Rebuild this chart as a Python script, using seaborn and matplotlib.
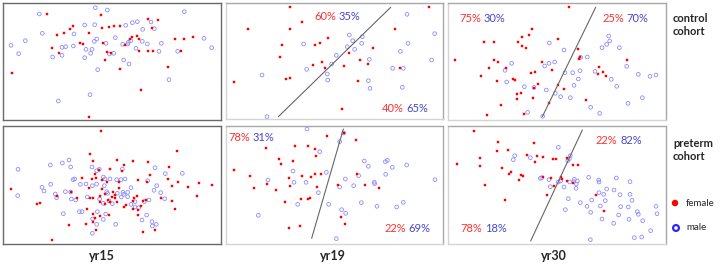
import numpy as np
import pandas as pd
import matplotlib
matplotlib.use('Agg')
import matplotlib.pyplot as plt
import seaborn as sns

sns.set_theme(style='white')
plt.rcParams['font.family'] = ['Lato', 'DejaVu Sans']

# -------------------- DATA (score coordinates) --------------------
YEARS = ['yr15', 'yr19', 'yr30']
COHORTS = ['control', 'preterm']

ctrl15_f = [(142,42),(302,44),(443,58),(473,60),(219,77),(305,84),(328,80),(342,78),(360,78),(209,88),
            (193,98),(171,104),(267,99),(457,84),(396,110),(389,118),(410,108),(417,116),(579,111),(524,116),
            (553,116),(240,130),(250,133),(310,128),(375,134),(155,143),(320,156),(332,158),(178,160),(418,152),
            (445,152),(458,152),(542,152),(315,180),(360,208),(503,200),(36,219),(423,270),(266,350)]
ctrl15_m = [(118,42),(286,23),(322,30),(553,35),(254,75),(284,74),(377,76),(397,68),(412,65),(453,66),
            (463,86),(428,88),(127,100),(222,102),(76,122),(290,117),(283,124),(346,113),(318,130),(385,127),
            (392,122),(368,133),(383,132),(427,124),(442,132),(484,130),(33,136),(612,115),(635,143),(186,142),
            (197,140),(220,138),(258,148),(276,148),(408,145),(56,161),(158,171),(186,166),(272,160),(254,173),
            (328,162),(341,160),(371,180),(387,192),(477,154),(533,154),(293,209),(507,239),(270,284),(175,303)]

ctrl19_f = [(195,22),(611,22),(231,65),(70,86),(194,88),(510,86),(308,113),(285,128),(271,134),(171,134),
            (443,143),(372,158),(165,170),(404,180),(290,187),(264,194),(429,191),(356,199),(299,204),(524,203),
            (182,236),(196,234),(26,246),(399,243),(350,328)]
ctrl19_m = [(546,43),(629,101),(373,105),(412,110),(383,122),(410,130),(236,132),(549,130),(367,140),(389,148),
            (526,154),(334,166),(433,178),(620,180),(320,192),(503,205),(535,205),(245,208),(307,222),(111,225),
            (308,240),(430,242),(435,265),(532,262),(126,350)]

ctrl30_f = [(372,22),(262,87),(252,105),(231,110),(116,127),(148,126),(219,126),(230,138),(243,143),(339,118),
            (398,148),(31,181),(148,181),(158,187),(291,187),(182,204),(133,205),(321,210),(270,215),(259,220),
            (107,227),(156,244),(205,238),(209,240),(402,176),(404,172),(462,200),(460,221),(473,217),(483,228),
            (547,181),(339,255),(278,253),(268,263),(228,278),(216,283),(216,296),(263,294),(357,268),(313,308),
            (422,299),(167,316),(127,346),(237,343)]
ctrl30_m = [(313,129),(357,150),(491,108),(494,123),(485,133),(471,143),(523,143),(200,190),(312,190),(299,198),
            (329,186),(180,211),(185,246),(238,260),(267,262),(304,270),(331,280),(347,290),(376,293),(360,218),
            (383,218),(405,212),(400,237),(387,256),(407,172),(427,171),(450,214),(499,238),(515,259),(545,199),
            (580,223),(615,229),(633,225),(592,293),(549,310),(437,322),(464,340),(248,337),(293,349)]

pre15_f = [(303,18),(532,77),(271,86),(278,108),(352,106),(399,108),(444,112),(372,120),(506,126),(330,132),
           (367,137),(296,134),(284,146),(450,150),(276,162),(288,160),(305,164),(245,158),(414,164),(442,170),
           (505,163),(534,170),(357,172),(322,170),(268,190),(307,192),(565,186),(596,174),(635,181),(516,182),
           (33,192),(356,188),(213,202),(170,214),(232,218),(270,218),(280,220),(299,213),(314,207),(323,225),
           (340,200),(346,210),(344,220),(337,215),(402,218),(410,214),(398,228),(430,228),(439,224),(482,220),
           (516,228),(590,212),(300,230),(316,238),(329,232),(121,233),(111,237),(379,240),(371,245),(400,252),
           (413,254),(424,242),(260,252),(279,268),(299,274),(286,278),(327,271),(413,271),(524,252),(280,292),
           (258,296),(206,299),(289,315),(466,316),(428,321),(157,345),(352,230)]
pre15_m = [(207,105),(187,114),(151,120),(212,126),(276,126),(290,137),(298,133),(367,132),(465,128),(496,146),
           (547,145),(54,133),(224,162),(219,164),(241,178),(258,177),(277,182),(290,177),(310,156),(315,162),
           (330,162),(350,164),(363,164),(375,162),(443,167),(470,182),(462,196),(482,203),(152,178),(126,187),
           (132,198),(196,200),(212,201),(313,182),(320,200),(383,202),(393,188),(352,205),(371,208),(383,215),
           (364,216),(323,205),(53,212),(166,207),(170,218),(214,222),(227,225),(262,216),(299,222),(327,228),
           (337,236),(310,235),(405,230),(433,230),(447,225),(494,221),(416,248),(393,238),(405,246),(190,266),
           (238,260),(246,260),(292,260),(317,267),(310,283),(278,282),(290,298),(347,298),(426,285),(440,270),
           (456,290),(469,298),(457,303),(277,325),(369,202)]

pre19_f = [(306,34),(392,46),(358,24),(211,62),(249,62),(122,70),(269,72),(273,94),(161,102),(203,108),
           (168,118),(28,135),(74,152),(232,152),(259,155),(270,148),(289,146),(192,158),(125,177),(194,184),
           (87,190),(153,194),(277,185),(339,180),(396,148),(421,180),(463,190),(256,220),(249,222),(228,222),
           (181,232),(349,276),(359,296),(224,304),(192,309)]
pre19_m = [(246,12),(356,24),(344,50),(284,80),(418,108),(430,124),(481,110),(487,106),(502,127),(545,120),
           (204,138),(304,142),(401,152),(482,148),(361,162),(448,172),(449,176),(630,164),(129,165),(207,172),
           (243,172),(344,186),(386,182),(280,203),(311,238),(218,238),(409,233),(456,244),(515,246),(535,232),
           (350,254),(362,265),(100,271),(334,341)]

pre30_f = [(86,17),(159,51),(266,54),(157,77),(188,76),(105,99),(246,90),(276,94),(293,97),(270,110),
           (325,101),(333,101),(366,100),(35,118),(104,123),(172,129),(199,140),(193,148),(229,150),(234,152),
           (223,165),(119,180),(384,121),(400,121),(294,155),(319,158),(349,157),(352,162),(366,167),(383,174),
           (327,184),(306,210),(181,226),(452,210),(478,258)]
pre30_m = [(340,67),(376,92),(373,101),(368,107),(205,104),(209,92),(256,98),(286,160),(290,158),(312,164),
           (316,185),(340,171),(347,168),(357,186),(388,163),(397,168),(386,170),(394,177),(393,190),(374,171),
           (431,157),(461,165),(462,171),(514,159),(555,170),(485,192),(462,203),(476,208),(507,195),(525,209),
           (555,208),(561,226),(370,221),(406,233),(440,225),(466,243),(481,227),(426,244),(437,262),(527,245),
           (550,246),(577,260),(580,268),(521,270),(552,283),(471,282),(593,287),(633,244),(636,266),(617,317),
           (590,336),(568,338),(506,295),(361,254),(436,344)]

# separating lines (two end points) and % female / % male on each side
boundaries = {
    ('control', 'yr19'): [(160, 350), (497, 22)],
    ('control', 'yr30'): [(292, 350), (452, 22)],
    ('preterm', 'yr19'): [(260, 340), (355, 12)],
    ('preterm', 'yr30'): [(257, 348), (412, 15)],
}
pct_labels = {
    ('control', 'yr19'): [('60%', '35%'), ('40%', '65%')],
    ('control', 'yr30'): [('75%', '30%'), ('25%', '70%')],
    ('preterm', 'yr19'): [('78%', '31%'), ('22%', '69%')],
    ('preterm', 'yr30'): [('22%', '82%'), ('78%', '18%')],
}

raw = {
    ('control', 'yr15'): (ctrl15_f, ctrl15_m),
    ('control', 'yr19'): (ctrl19_f, ctrl19_m),
    ('control', 'yr30'): (ctrl30_f, ctrl30_m),
    ('preterm', 'yr15'): (pre15_f, pre15_m),
    ('preterm', 'yr19'): (pre19_f, pre19_m),
    ('preterm', 'yr30'): (pre30_f, pre30_m),
}
frames = []
for (cohort, yr), (fem, mal) in raw.items():
    for sex, pts in (('female', fem), ('male', mal)):
        d = pd.DataFrame(pts, columns=['x', 'y'])
        d['cohort'], d['year'], d['sex'] = cohort, yr, sex
        frames.append(d)
df = pd.concat(frames, ignore_index=True)

# -------------------- LAYOUT --------------------
W, H = 721, 267
RED = '#ff0000'
BLUE_PT = '#8c8cff'
RED_TXT = '#ff3030'
BLUE_TXT = '#4646d2'

boxes = {  # pixel boxes (x0, y0, x1, y1) in the figure
    ('control', 'yr15'): (3, 3, 221, 120),
    ('control', 'yr19'): (226, 3, 443, 119),
    ('control', 'yr30'): (448, 3, 666, 120),
    ('preterm', 'yr15'): (3, 126, 221, 244),
    ('preterm', 'yr19'): (226, 126, 443, 244),
    ('preterm', 'yr30'): (448, 126, 666, 244),
}
limits = {
    ('control', 'yr15'): ((9, 663), (9, 360)),
    ('control', 'yr19'): ((3, 654), (9, 357)),
    ('control', 'yr30'): ((9, 663), (9, 360)),
    ('preterm', 'yr15'): ((9, 663), (3, 357)),
    ('preterm', 'yr19'): ((3, 654), (3, 357)),
    ('preterm', 'yr30'): ((9, 663), (3, 357)),
}
# where the % pairs sit (data coords of the centre of the red label)
label_pos = {
    ('control', 'yr19'): [(300, 48), (503, 326)],
    ('control', 'yr30'): [(75, 57), (505, 57)],
    ('preterm', 'yr19'): [(43, 38), (510, 310)],
    ('preterm', 'yr30'): [(485, 45), (80, 312)],
}

fig = plt.figure(figsize=(W / 100, H / 100), dpi=100)
fig.patch.set_facecolor('white')

for key, (x0, y0, x1, y1) in boxes.items():
    cohort, yr = key
    ax = fig.add_axes([x0 / W, 1 - y1 / H, (x1 - x0) / W, (y1 - y0) / H])
    sub = df[(df.cohort == cohort) & (df.year == yr)]
    sns.scatterplot(data=sub[sub.sex == 'male'], x='x', y='y', ax=ax, marker='o', s=7,
                    facecolor='none', edgecolor=BLUE_PT, linewidth=0.6, legend=False)
    sns.scatterplot(data=sub[sub.sex == 'female'], x='x', y='y', ax=ax, marker='s', s=4,
                    color=RED, edgecolor=RED, linewidth=0.3, legend=False)
    if key in boundaries:
        (bx0, by0), (bx1, by1) = boundaries[key]
        ax.plot([bx0, bx1], [by0, by1], color='#666666', lw=0.8)
        for (rx, ry), (ftxt, mtxt) in zip(label_pos[key], pct_labels[key]):
            ax.text(rx, ry, ftxt, color=RED_TXT, fontsize=8, ha='center', va='center')
            ax.text(rx + 73, ry, mtxt, color=BLUE_TXT, fontsize=8, ha='center', va='center')
    (xl, xr), (yt, yb) = limits[key]
    ax.set_xlim(xl, xr)
    ax.set_ylim(yb, yt)
    ax.set_xticks([])
    ax.set_yticks([])
    ax.set_xlabel('')
    ax.set_ylabel('')
    dark = '#6a6a6a' if yr == 'yr15' else '#a8a8a8'
    for side, sp in ax.spines.items():
        sp.set_linewidth(1.0)
        sp.set_color(dark if side in ('top', 'right') or yr == 'yr15' else '#d4d4d4')

# year labels under the columns
for yr, xc in zip(YEARS, [102, 333, 554]):
    fig.text(xc / W, 1 - 256 / H, yr, fontsize=9, fontweight='bold', ha='center', va='center')

# cohort labels at the right
fig.text(673 / W, 1 - 25 / H, 'control\ncohort', fontsize=8, fontweight='bold', ha='left',
         va='center', linespacing=1.25)
fig.text(673 / W, 1 - 150 / H, 'preterm\ncohort', fontsize=8, fontweight='bold', ha='left',
         va='center', linespacing=1.25)

# legend
fig.text(686 / W, 1 - 203 / H, 'female', fontsize=7, ha='left', va='center')
fig.text(686 / W, 1 - 228 / H, 'male', fontsize=7, ha='left', va='center')
lax = fig.add_axes([0, 0, 1, 1], facecolor='none')
lax.set_xlim(0, W)
lax.set_ylim(H, 0)
lax.axis('off')
lax.scatter([675], [203], s=22, color=RED, edgecolor='none')
lax.scatter([676], [228], s=18, facecolor='none', edgecolor='#2a2aff', linewidth=1.6)

fig.savefig('out.png', dpi=100, facecolor='white')
